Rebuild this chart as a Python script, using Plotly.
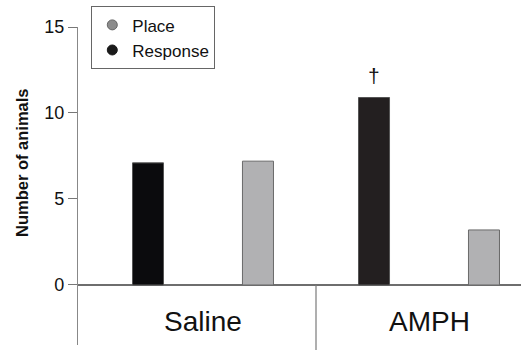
import plotly.graph_objects as go

categories = ["Saline", "AMPH"]
response_vals = [7.1, 10.9]
place_vals = [7.2, 3.2]
response_marks = ["", "†"]
y_ticks = [0, 5, 10, 15]

FONT = "Liberation Sans, Arial, Helvetica, sans-serif"
Y_MIN, Y_MAX = -3.49, 15.0
BARGAP = 0.027

fig = go.Figure()
fig.add_trace(go.Bar(
    x=categories, y=response_vals, name="Response", showlegend=False,
    marker=dict(color=["#0b0b0d", "#231f20"], line=dict(color="#555555", width=1)),
))
fig.add_trace(go.Bar(
    x=categories, y=place_vals, name="Place", showlegend=False,
    marker=dict(color="#b1b1b3", line=dict(color="#6a6a6a", width=1)),
))
# legend entries with circle markers
fig.add_trace(go.Scatter(x=[None], y=[None], mode="markers", name="Place",
                         marker=dict(symbol="circle", size=10, color="#8c8c8c",
                                     line=dict(color="#666666", width=1))))
fig.add_trace(go.Scatter(x=[None], y=[None], mode="markers", name="Response",
                         marker=dict(symbol="circle", size=10, color="#1a1a1a",
                                     line=dict(color="#1a1a1a", width=1))))

# significance marks above response bars
offset = (1 - BARGAP) / 4
for i, (v, m) in enumerate(zip(response_vals, response_marks)):
    if m:
        fig.add_annotation(x=i - offset, y=v, xref="x", yref="y", text=m,
                           showarrow=False, yanchor="bottom", yshift=9,
                           font=dict(size=21, color="#111111", family=FONT))

for c in categories:
    fig.add_annotation(x=c, y=-2.15, xref="x", yref="y", text=c, showarrow=False,
                       font=dict(size=28, color="#111111", family=FONT))

fig.add_annotation(x=(22 - 78) / 443, xref="paper", xanchor="center",
                   y=(345 - 163) / 318, yref="paper",
                   text="<b>Number of animals</b>", textangle=-90, showarrow=False,
                   font=dict(size=16.5, color="#111111", family=FONT))

zero_frac = (0 - Y_MIN) / (Y_MAX - Y_MIN)
fig.add_shape(type="line", xref="x", yref="paper", x0=0.5, x1=0.5,
              y0=zero_frac, y1=-0.03, line=dict(color="#7a7a7a", width=1.2))

fig.update_layout(
    width=521, height=350,
    margin=dict(l=78, r=0, t=27, b=5),
    paper_bgcolor="white", plot_bgcolor="white",
    barmode="group", bargap=BARGAP, bargroupgap=0.718,
    font=dict(family=FONT, color="#111111"),
    legend=dict(x=0.03, y=1.065, xanchor="left", yanchor="top",
                bgcolor="white", bordercolor="#666666", borderwidth=1,
                font=dict(size=17, family=FONT, color="#111111"),
                tracegroupgap=0, itemwidth=30),
    xaxis=dict(range=[-0.553, 1.407], showticklabels=False, showline=False,
               showgrid=False, zeroline=False, ticks=""),
    yaxis=dict(range=[Y_MIN, Y_MAX], tickvals=y_ticks, ticktext=[str(t) for t in y_ticks],
               ticks="outside", ticklen=9, tickcolor="#777777", tickwidth=1,
               showline=True, linecolor="#888888", linewidth=1.2,
               showgrid=False, zeroline=True, zerolinecolor="#6e6e6e", zerolinewidth=1.6,
               tickfont=dict(size=18, family=FONT, color="#111111")),
)

fig.write_html("out.html")
